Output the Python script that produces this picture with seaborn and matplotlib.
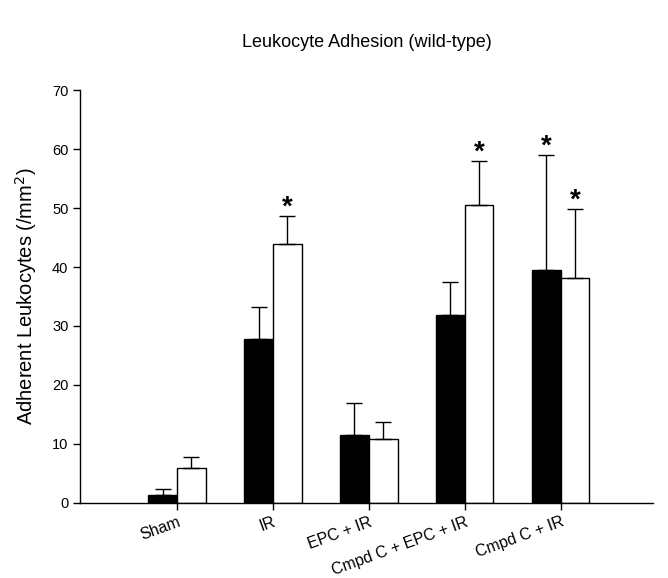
import numpy as np
import pandas as pd
import seaborn as sns
import matplotlib.pyplot as plt

categories = ["Sham", "IR", "EPC + IR", "Cmpd C + EPC + IR", "Cmpd C + IR"]
black_vals = [1.4, 27.8, 11.5, 31.9, 39.5]
black_err = [1.0, 5.5, 5.4, 5.5, 19.5]
white_vals = [5.9, 43.9, 10.8, 50.5, 38.2]
white_err = [1.9, 4.8, 2.9, 7.5, 11.7]
black_star = [False, False, False, False, True]
white_star = [False, True, False, True, True]

sns.set_style("ticks")
plt.rcParams['font.family'] = ['Liberation Sans', 'DejaVu Sans']
plt.rcParams['text.color'] = 'black'
plt.rcParams['axes.labelcolor'] = 'black'
plt.rcParams['xtick.color'] = 'black'
plt.rcParams['ytick.color'] = 'black'
plt.rcParams['axes.edgecolor'] = 'black'

df = pd.DataFrame({
    "cat": categories * 2,
    "val": black_vals + white_vals,
    "grp": ["black"] * 5 + ["white"] * 5,
})

fig = plt.figure(figsize=(6.68, 5.78), dpi=100)
ax = fig.add_axes([0.12, 0.13, 0.857, 0.714])
sns.barplot(data=df, x="cat", y="val", hue="grp", palette={"black": "black", "white": "white"},
            width=0.6, edgecolor="black", linewidth=1, ax=ax, legend=False, errorbar=None)

x = np.arange(len(categories))
for off, vals, errs, stars in [(-0.15, black_vals, black_err, black_star),
                               (0.15, white_vals, white_err, white_star)]:
    ax.errorbar(x + off, vals, yerr=[np.zeros(len(vals)), errs], fmt="none",
                ecolor="black", elinewidth=1, capsize=6, capthick=1)
    for xi, v, e, s in zip(x + off, vals, errs, stars):
        if s:
            ax.text(xi, v + e - 0.8, "*", ha="center", va="bottom", fontsize=20, fontweight="bold")

ax.set_xlim(-1.01, 4.96)
ax.set_ylim(0, 70)
ax.set_yticks(range(0, 71, 10))
ax.set_xlabel("")
ax.set_ylabel("Adherent Leukocytes (/mm$^2$)", fontsize=14.5, labelpad=9)
ax.tick_params(axis="y", labelsize=10.5)
ax.tick_params(axis="x", labelsize=11.5)
ax.tick_params(direction="out", length=5, width=1)
ax.set_xticks(x)
ax.set_xticklabels(categories, rotation=20, ha="right", rotation_mode="anchor")
for sp in ["top", "right"]:
    ax.spines[sp].set_visible(False)
for sp in ["left", "bottom"]:
    ax.spines[sp].set_linewidth(1)
ax.set_title("Leukocyte Adhesion (wild-type)", fontsize=13, pad=31)

plt.savefig("out.png", dpi=100)
